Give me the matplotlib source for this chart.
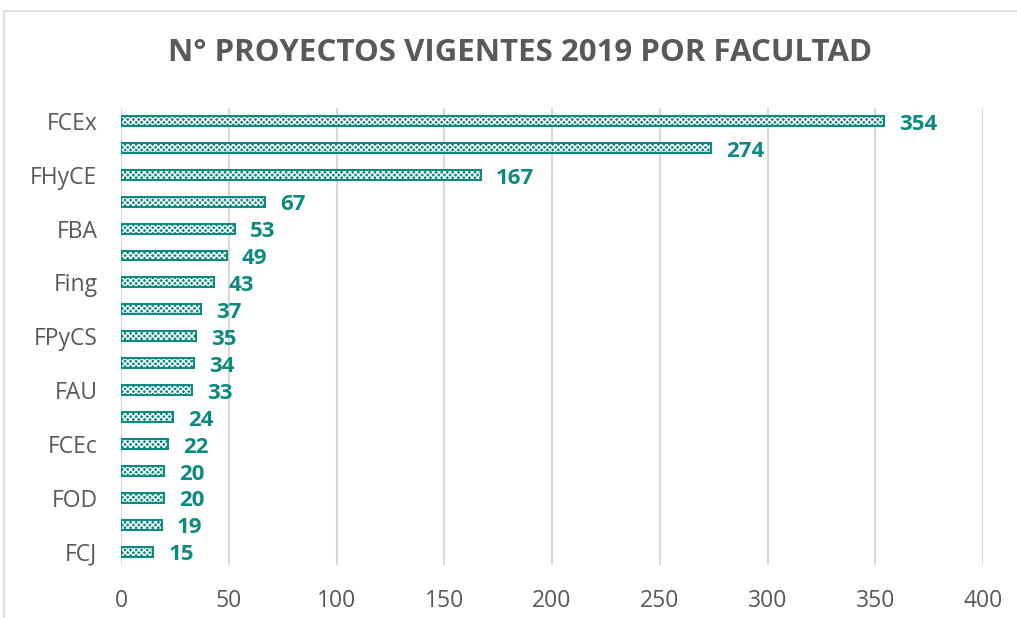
import matplotlib.pyplot as plt
import numpy as np
from matplotlib.lines import Line2D

plt.rcParams['font.family'] = ['Open Sans', 'DejaVu Sans']
plt.rcParams['hatch.linewidth'] = 1.0

# Data
categorias = ['FCEx', '', 'FHyCE', '', 'FBA', '', 'Fing', '', 'FPyCS', '',
              'FAU', '', 'FCEc', '', 'FOD', '', 'FCJ']
proyectos = [354, 274, 167, 67, 53, 49, 43, 37, 35, 34, 33, 24, 22, 20, 20, 19, 15]
xticks = [0, 50, 100, 150, 200, 250, 300, 350, 400]

teal = '#0e8a82'
gris = '#595959'

fig = plt.figure(figsize=(10.17, 6.18), dpi=100)
ax = fig.add_axes([121 / 1017, 1 - 565 / 618, (983 - 121) / 1017, (565 - 107.5) / 618])

y = np.arange(len(proyectos))
# checkered fill: teal base, white hatch, teal outline
ax.barh(y, proyectos, height=0.37, color=teal, linewidth=0)
ax.barh(y, proyectos, height=0.37, color='none', edgecolor='white',
        hatch='xxxxxx', linewidth=0)
ax.barh(y, proyectos, height=0.37, color='none', edgecolor=teal, linewidth=1.5)

for yi, v in zip(y, proyectos):
    ax.text(v + 7, yi + 0.12, str(v), va='center', ha='left',
            fontsize=16, fontweight='bold', color=teal)

ax.set_xlim(0, 400)
ax.set_ylim(16.5, -0.5)
ax.set_xticks(xticks)
ax.set_yticks(y)
ax.set_yticklabels(categorias)
ax.tick_params(axis='both', length=0, labelsize=16.5, labelcolor=gris)
ax.tick_params(axis='y', pad=17)
ax.tick_params(axis='x', pad=17)
ax.grid(axis='x', color='#d9d9d9', linewidth=1.5)
ax.set_axisbelow(True)
for s in ax.spines.values():
    s.set_visible(False)

fig.text(520 / 1017, 1 - 53 / 618, 'N° PROYECTOS VIGENTES 2019 POR FACULTAD',
         ha='center', va='center', fontsize=22.5, fontweight='bold', color=gris)

# chart border
fig.add_artist(Line2D([4 / 1017, 4 / 1017], [0, 1 - 11 / 618], transform=fig.transFigure,
                      color='#d9d9d9', linewidth=1.2))
fig.add_artist(Line2D([4 / 1017, 1], [1 - 11 / 618, 1 - 11 / 618], transform=fig.transFigure,
                      color='#d9d9d9', linewidth=1.2))

plt.savefig('out.png', dpi=100)
